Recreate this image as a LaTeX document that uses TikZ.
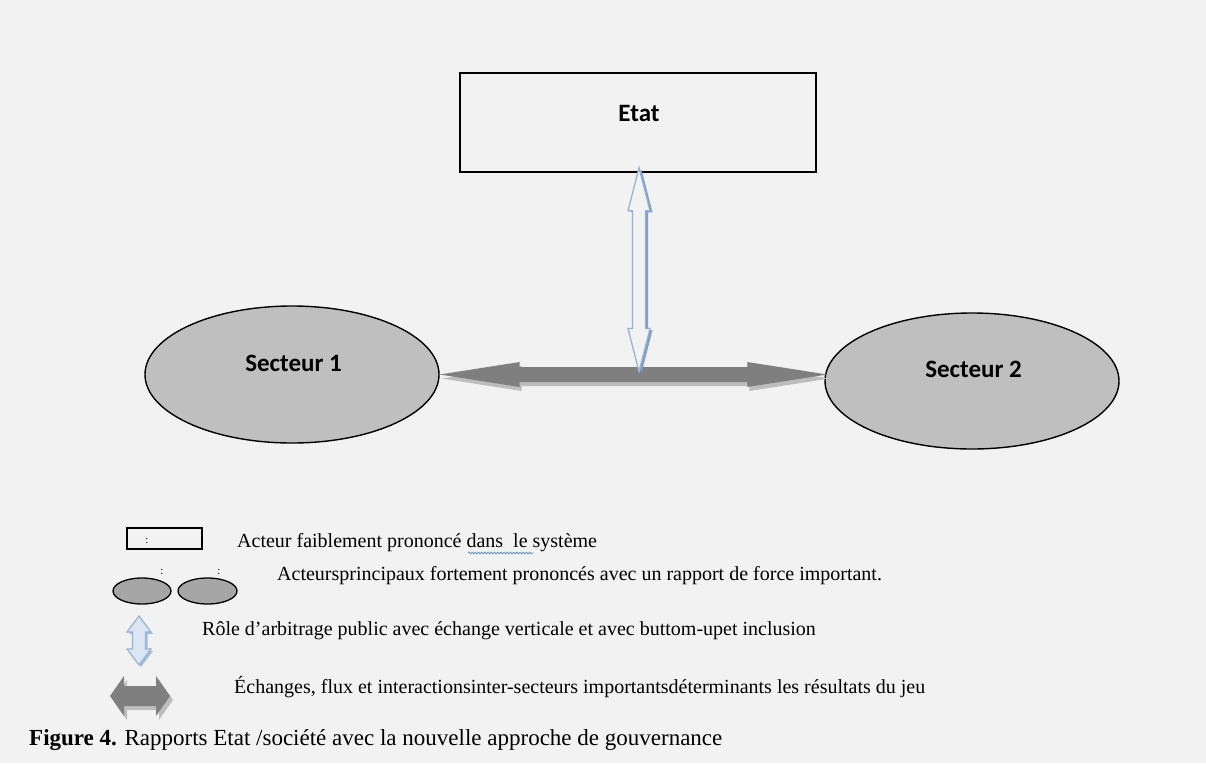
\documentclass[tikz,border=0pt]{standalone}
\usepackage{fontspec}
\setmainfont{Liberation Serif}
\newfontfamily\calib{Carlito}
\usetikzlibrary{shapes.geometric,calc,decorations.pathmorphing}
\definecolor{bg}{HTML}{F2F2F2}
\definecolor{ellfill}{HTML}{BFBFBF}
\definecolor{ellmini}{HTML}{A6A6A6}
\definecolor{arrgray}{HTML}{7F7F7F}
\definecolor{arrshadow}{HTML}{BDBDBD}
\definecolor{blueline}{HTML}{95B3D7}
\definecolor{blueshd}{HTML}{7F9FCB}
\definecolor{bluefill}{HTML}{DCE6F2}
\definecolor{squiggle}{HTML}{4F7FD0}
\tikzset{
  actorbox/.style={rectangle, draw=black, line width=1.6pt, inner sep=0pt},
  sector/.style={ellipse, draw=black, line width=1.4pt, fill=ellfill, inner sep=0pt},
  minisector/.style={ellipse, draw=black, line width=1.3pt, fill=ellmini, inner sep=0pt,
    minimum width=58pt, minimum height=26pt},
  lbl/.style={font=\calib\bfseries\fontsize{25}{30}\selectfont, inner sep=0pt, anchor=base},
  legtext/.style={font=\fontsize{20}{24}\selectfont, inner sep=0pt, anchor=base west},
  captext/.style={font=\fontsize{23}{28}\selectfont, inner sep=0pt, anchor=base west},
  colon/.style={font=\fontsize{11}{13}\selectfont, inner sep=0pt},
  grayarrow/.style={fill=arrgray},
  grayshadow/.style={fill=arrshadow},
  bluearrow/.style={fill=bg, draw=blueline, line width=1.3pt, line join=miter},
  bluelegend/.style={fill=bluefill, draw=blueline, line width=1.2pt, line join=miter},
  blueshadow/.style={fill=blueshd},
  harrow/.style n args={5}{insert path={(#1) -- ($(#1)+(#3,-#4)$) -- ($(#1)+(#3,-#5)$)
    -- ($(#2)+(-#3,-#5)$) -- ($(#2)+(-#3,-#4)$) -- (#2) -- ($(#2)+(-#3,#4)$)
    -- ($(#2)+(-#3,#5)$) -- ($(#1)+(#3,#5)$) -- ($(#1)+(#3,#4)$) -- cycle}},
  varrow/.style n args={5}{insert path={(#1) -- ($(#1)+(#4,#3)$) -- ($(#1)+(#5,#3)$)
    -- ($(#2)+(#5,-#3)$) -- ($(#2)+(#4,-#3)$) -- (#2) -- ($(#2)+(-#4,-#3)$)
    -- ($(#2)+(-#5,-#3)$) -- ($(#1)+(-#5,#3)$) -- ($(#1)+(-#4,#3)$) -- cycle}},
}
\begin{document}
\begin{tikzpicture}[x=1pt,y=-1pt]
\fill[bg] (0,0) rectangle (1206,763);
\useasboundingbox (0,0) rectangle (1206,763);

% main shapes
\node[actorbox, minimum width=356pt, minimum height=99pt] (etat) at (638,122.5) {};
\node[lbl] (etatlbl) at (639,121.5) {Etat};
\node[sector, minimum width=294pt, minimum height=137pt] (s1) at (292,374.5) {};
\node[lbl] (s1lbl) at (293.5,371) {Secteur 1};
\node[sector, minimum width=294pt, minimum height=136pt] (s2) at (972,381) {};
\node[lbl] (s2lbl) at (973.5,377) {Secteur 2};

% connector coordinates
\coordinate (hL) at (s1.east);
\coordinate (hR) at ($(s2.west |- hL)+(3,0)$);
\coordinate (vT) at ($(etat.south)+(1,-5)$);
\coordinate (vB) at ($(vT |- hL)+(0,-3)$);

% horizontal exchange arrow
\fill[grayshadow, transform canvas={shift={(2pt,-4pt)}}, harrow={hL}{hR}{80}{12.5}{7.5}];
\fill[grayarrow, harrow={hL}{hR}{80}{12.5}{7.5}];

% vertical arbitration arrow
\fill[blueshadow, transform canvas={shift={(2.5pt,-1.5pt)}}, varrow={vT}{vB}{43}{11}{6.5}];
\path[bluearrow, varrow={vT}{vB}{43}{11}{6.5}];

% legend
\node[actorbox, line width=1.3pt, minimum width=75pt, minimum height=21pt] (lrect) at (164.5,538.5) {};
\node[colon] (c1) at (147,541) {:};
\node[legtext] (t1) at (237,547.5) {Acteur faiblement prononcé dans\ \ le système};
\draw[squiggle, line width=0.6pt, decorate, decoration={snake, amplitude=0.9pt, segment length=3.2pt}]
  (468,553) -- (533,553);

\node[minisector] (le1) at (142,591) {};
\node[minisector, minimum width=59pt] (le2) at (207.5,591) {};
\node[colon] (c2) at (162,572) {:};
\node[colon] (c3) at (219,572) {:};
\node[legtext] (t2) at (277,580) {Acteursprincipaux fortement prononcés avec un rapport de force important.};

\coordinate (lgT) at (139,616);
\coordinate (lgB) at (139,665);
\fill[blueshd!70, transform canvas={shift={(2pt,-2pt)}}, varrow={lgT}{lgB}{16}{12}{6.5}];
\path[bluelegend, varrow={lgT}{lgB}{16}{12}{6.5}];
\node[legtext] (t3) at (202,635) {Rôle d’arbitrage public avec échange verticale et avec buttom-upet inclusion};

\coordinate (lhL) at (110,696);
\coordinate (lhR) at (170,696);
\fill[arrshadow, transform canvas={shift={(3pt,-4pt)}}, harrow={lhL}{lhR}{14}{20}{10}];
\fill[grayarrow, harrow={lhL}{lhR}{14}{20}{10}];
\node[legtext] (t4) at (234,693) {Échanges, flux et interactionsinter-secteurs importantsdéterminants les résultats du jeu};

\node[captext] (cap) at (29,745) {\textbf{Figure 4.} Rapports Etat /société avec la nouvelle approche de gouvernance};
\end{tikzpicture}
\end{document}
